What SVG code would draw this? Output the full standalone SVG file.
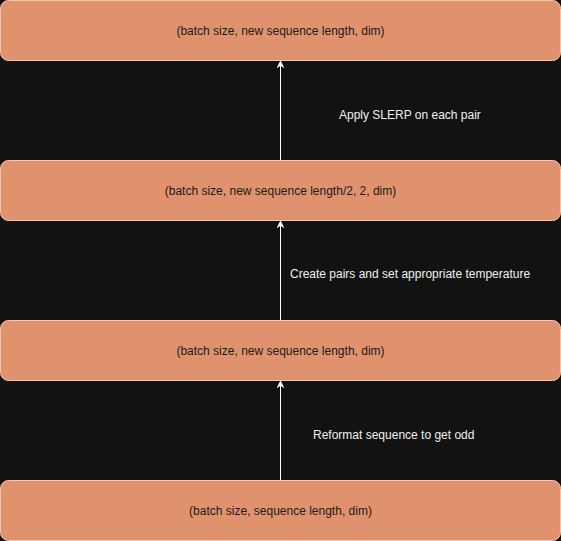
<svg xmlns="http://www.w3.org/2000/svg" width="561" height="541" viewBox="0 0 561 541">
<style>
.node rect{fill:#E0926F;stroke:#F7C7AB;stroke-width:1}
.node text{font-family:"Liberation Sans",Arial,sans-serif;font-size:12px;fill:#1b1b1b;text-anchor:middle;dominant-baseline:central}
.edge line{stroke:#ffffff;stroke-width:1}
.lbl{font-family:"Liberation Sans",Arial,sans-serif;font-size:12px;fill:#f0f0f0;dominant-baseline:central}
</style>
<defs>
<marker id="ah" viewBox="0 0 10 10" refX="9" refY="5" markerWidth="8" markerHeight="8" markerUnits="userSpaceOnUse" orient="auto">
<path d="M0,0 L10,5 L0,10 L3,5 Z" fill="#ffffff"/>
</marker>
</defs>
<rect x="0" y="0" width="561" height="541" fill="#121212"/>
<g id="connectors" class="edge">
<line x1="280.5" y1="480" x2="280.5" y2="381" marker-end="url(#ah)"/>
<line x1="280.5" y1="320" x2="280.5" y2="221" marker-end="url(#ah)"/>
<line x1="280.5" y1="160" x2="280.5" y2="61" marker-end="url(#ah)"/>
<text class="lbl" x="339" y="115">Apply SLERP on each pair</text>
<text class="lbl" x="290" y="274">Create pairs and set appropriate temperature</text>
<text class="lbl" x="313" y="435">Reformat sequence to get odd</text>
</g>
<g id="n1" class="node"><rect x="0.5" y="0.5" width="560" height="60" rx="8"/><text x="280.5" y="30.5">(batch size, new sequence length, dim)</text></g>
<g id="n2" class="node"><rect x="0.5" y="160.5" width="560" height="60" rx="8"/><text x="280.5" y="190.5">(batch size, new sequence length/2, 2, dim)</text></g>
<g id="n3" class="node"><rect x="0.5" y="320.5" width="560" height="60" rx="8"/><text x="280.5" y="350.5">(batch size, new sequence length, dim)</text></g>
<g id="n4" class="node"><rect x="0.5" y="480.5" width="560" height="60" rx="8"/><text x="280.5" y="510.5">(batch size, sequence length, dim)</text></g>
</svg>
